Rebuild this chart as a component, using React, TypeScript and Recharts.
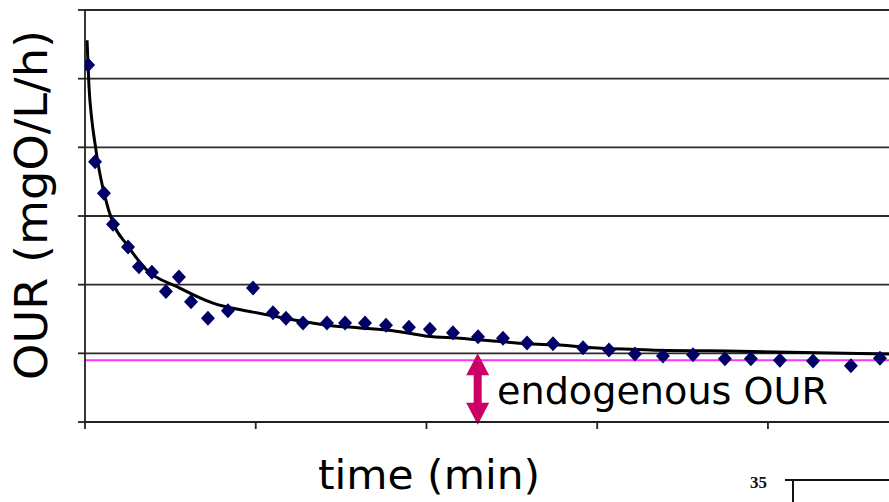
import {
  CartesianGrid,
  ComposedChart,
  Line,
  ReferenceLine,
  Scatter,
  XAxis,
  YAxis,
} from 'recharts'

const timeMin = [
  0.18, 0.59, 1.11, 1.64, 2.52, 3.16, 3.92, 4.74, 5.5, 6.21, 7.2, 8.37, 9.84,
  11.01, 11.77, 12.77, 14.17, 15.23, 16.4, 17.63, 18.97, 20.2, 21.55, 23.02,
  24.48, 25.89, 27.41, 29.17, 30.69, 32.21, 33.85, 35.61, 37.48, 39.0, 40.7,
  42.64, 44.86, 46.56,
]
const ourValues = [
  5.2, 3.79, 3.33, 2.88, 2.55, 2.26, 2.18, 1.9, 2.11, 1.75, 1.51, 1.62, 1.95,
  1.59, 1.51, 1.44, 1.44, 1.44, 1.44, 1.41, 1.38, 1.35, 1.3, 1.24, 1.22, 1.15,
  1.14, 1.08, 1.05, 0.99, 0.96, 0.98, 0.92, 0.92, 0.9, 0.89, 0.82, 0.93,
]

// fitted curve
const fitTime = [
  0.12, 0.23, 0.4, 0.59, 0.76, 1.17, 1.64, 2.46, 3.63, 5.39, 7.5, 9.84, 12.18,
  14.17, 16.11, 18.04, 20.04, 21.96, 23.89, 25.89, 27.82, 29.75, 33.09, 38.36,
  47.09,
]
const fitValues = [
  5.56, 4.9, 4.4, 4.05, 3.77, 3.28, 2.9, 2.58, 2.21, 1.97, 1.73, 1.6, 1.49,
  1.41, 1.37, 1.33, 1.25, 1.22, 1.18, 1.14, 1.12, 1.08, 1.05, 1.03, 0.99,
]

const xTicks = [0, 10, 20, 30, 40]
const yTicks = [0, 1, 2, 3, 4, 5, 6]
const endogenousOUR = 0.9
const arrowTime = 23

const points = timeMin.map((t, i) => ({ t, our: ourValues[i] }))
const fit = fitTime.map((t, i) => ({ t, our: fitValues[i] }))

const FONT = '"DejaVu Sans", sans-serif'

const NoLabel = () => <g />

function Diamond(props: any) {
  const { cx, cy } = props
  if (cx == null || cy == null) return null
  return (
    <path
      d={`M${cx},${cy - 7.5} L${cx + 7},${cy} L${cx},${cy + 7.5} L${cx - 7},${cy} Z`}
      fill="#000066"
    />
  )
}

function DoubleArrow(props: any) {
  const { x1, y1, y2 } = props
  const x = x1
  const t = Math.min(y1, y2)
  const b = Math.max(y1, y2)
  const hw = 11.5
  const hh = 22
  const sw = 4
  const d = [
    `M${x},${t}`,
    `L${x + hw},${t + hh}`,
    `L${x + sw},${t + hh}`,
    `L${x + sw},${b - hh}`,
    `L${x + hw},${b - hh}`,
    `L${x},${b}`,
    `L${x - hw},${b - hh}`,
    `L${x - sw},${b - hh}`,
    `L${x - sw},${t + hh}`,
    `L${x - hw},${t + hh}`,
    'Z',
  ].join(' ')
  return <path d={d} fill="#cc0066" />
}

export default function App() {
  return (
    <div
      style={{
        position: 'absolute',
        left: 0,
        top: 0,
        width: 889,
        height: 502,
        overflow: 'hidden',
        background: '#fff',
      }}
    >
      <ComposedChart
        width={889}
        height={502}
        margin={{ top: 10, right: 0, bottom: 0, left: 25 }}
      >
        <CartesianGrid vertical={false} stroke="#2a2a2a" strokeWidth={1.8} />
        <XAxis
          dataKey="t"
          type="number"
          domain={[0, 47.09]}
          ticks={xTicks}
          tick={NoLabel}
          tickSize={7}
          height={80}
          allowDataOverflow
          axisLine={{ stroke: '#222', strokeWidth: 1.8 }}
          tickLine={{ stroke: '#222', strokeWidth: 1.8 }}
        />
        <YAxis
          type="number"
          domain={[0, 6]}
          ticks={yTicks}
          tick={NoLabel}
          tickSize={7}
          width={60}
          axisLine={{ stroke: '#222', strokeWidth: 1.8 }}
          tickLine={{ stroke: '#222', strokeWidth: 1.8 }}
        />
        <ReferenceLine
          y={endogenousOUR}
          stroke="#ff33ff"
          strokeWidth={2}
        />
        <Line
          data={fit}
          dataKey="our"
          type="monotone"
          stroke="#000"
          strokeWidth={3}
          dot={false}
          isAnimationActive={false}
        />
        <Scatter
          data={points}
          dataKey="our"
          shape={<Diamond />}
          isAnimationActive={false}
        />
        <ReferenceLine
          segment={[
            { x: arrowTime, y: 1.0 },
            { x: arrowTime, y: -0.04 },
          ]}
          ifOverflow="visible"
          shape={<DoubleArrow />}
        />
      </ComposedChart>
      <svg
        width={889}
        height={502}
        style={{ position: 'absolute', left: 0, top: 0, pointerEvents: 'none' }}
      >
        <text
          x={497}
          y={404}
          fontFamily={FONT}
          fontSize={38}
          textLength={331}
          lengthAdjust="spacingAndGlyphs"
          fill="#000"
        >
          endogenous OUR
        </text>
        <text
          x={429}
          y={489}
          textAnchor="middle"
          fontFamily={FONT}
          fontSize={40}
          textLength={222}
          lengthAdjust="spacingAndGlyphs"
          fill="#000"
        >
          time (min)
        </text>
        <text
          transform="translate(47,205) rotate(-90)"
          textAnchor="middle"
          fontFamily={FONT}
          fontSize={44}
          textLength={350}
          lengthAdjust="spacingAndGlyphs"
          fill="#000"
        >
          OUR (mgO/L/h)
        </text>
        <text
          x={750}
          y={488}
          fontFamily='"Liberation Serif", serif'
          fontWeight="bold"
          fontSize={17}
          fill="#111"
        >
          35
        </text>
        <path d="M785,480 H889 M793,480 V502" stroke="#111" strokeWidth={2} fill="none" />
      </svg>
    </div>
  )
}
